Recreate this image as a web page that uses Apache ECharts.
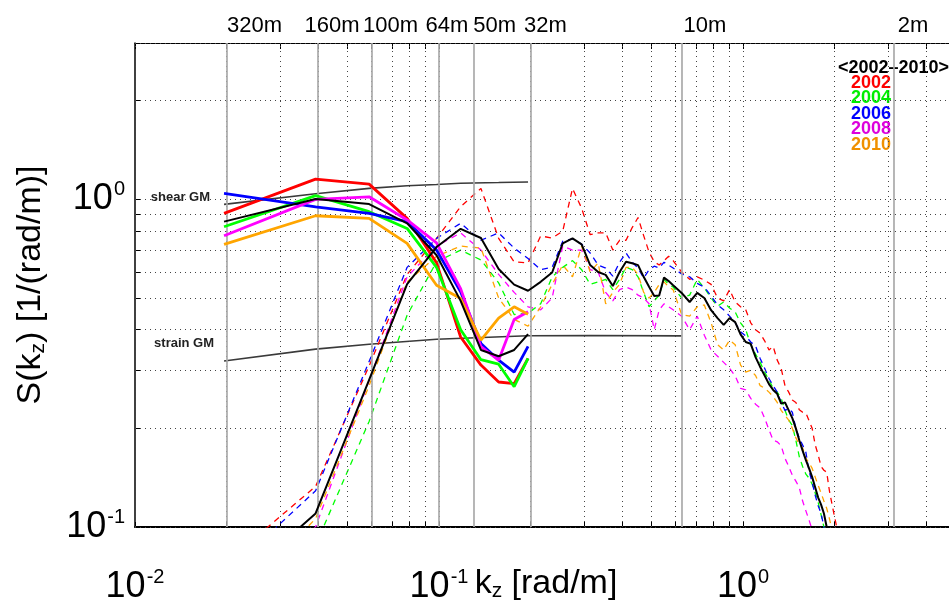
<!DOCTYPE html>
<html><head><meta charset="utf-8">
<script src="https://cdn.jsdelivr.net/npm/echarts@6/dist/echarts.min.js"></script>
<style>html,body{margin:0;padding:0;background:#fff}#c{width:949px;height:614px}</style>
</head><body><div id="c"></div>
<script>
// ---- data ----
const kLow = [0.01963,0.03927,0.05890,0.07854,0.09817,0.1178,0.1374,0.1571,0.1767,0.1963];
const lowRed     = [0.906,1.153,1.113,0.875,0.64,0.38,0.312,0.277,0.274,0.327];
const lowGreen   = [0.825,1.026,0.917,0.815,0.62,0.40,0.324,0.314,0.268,0.327];
const lowBlue    = [1.043,0.949,0.906,0.855,0.70,0.522,0.363,0.323,0.297,0.356];
const lowMagenta = [0.774,1.0,1.018,0.865,0.736,0.534,0.355,0.323,0.43,0.454];
const lowOrange  = [0.729,0.891,0.875,0.734,0.547,0.498,0.372,0.434,0.47,0.446];
const lowMean    = [0.855,1.002,0.967,0.845,0.675,0.49,0.347,0.332,0.347,0.388];

const kHigh = [0.01963,0.03927,0.05890,0.07854,0.09817,0.1178,0.1374,0.1571,0.1767,0.1963,
  0.2160,0.2356,0.2553,0.2749,0.2945,0.3142,0.3338,0.3534,0.3731,0.3927,
  0.4123,0.4320,0.4516,0.4712,0.4909,0.5105,0.5301,0.5498,0.5694,0.5890,
  0.6283,0.6676,0.7069,0.7461,0.7854,0.8247,0.8639,0.9032,0.9425,0.9817,
  1.0210,1.0603,1.0996,1.1388,1.1781,1.2174,1.2566,1.2959,1.3352,1.3744,
  1.4137,1.4530,1.4923,1.5315,1.5708,1.6101,1.6493,1.6886,1.7279,1.7671,
  1.8064,1.8457,1.8850,1.9242,1.9635,2.0028,2.0420];
const highMean = [0.062,0.110,0.281,0.551,0.715,0.813,0.762,0.613,0.549,0.526,
  0.56,0.598,0.734,0.76,0.729,0.63,0.60,0.588,0.544,0.60,
  0.645,0.638,0.63,0.58,0.541,0.507,0.509,0.577,0.563,0.547,
  0.518,0.486,0.518,0.50,0.459,0.434,0.414,0.434,0.422,0.387,
  0.367,0.362,0.33,0.308,0.29,0.273,0.262,0.255,0.238,0.24,
  0.227,0.215,0.20,0.184,0.171,0.16,0.151,0.142,0.132,0.123,
  0.117,0.110,0.100,0.092,0.085,0.078,0.072];
const highRed = [0.077,0.133,0.31,0.59,0.76,0.95,1.08,0.76,0.644,0.64,
  0.773,0.762,0.80,1.08,0.94,0.78,0.79,0.79,0.70,0.75,
  0.75,0.82,0.88,0.775,0.69,0.645,0.63,0.65,0.67,0.65,
  0.60,0.57,0.58,0.567,0.55,0.50,0.49,0.53,0.486,0.47,
  0.46,0.42,0.40,0.39,0.37,0.347,0.356,0.323,0.305,0.27,
  0.258,0.244,0.24,0.228,0.224,0.223,0.211,0.20,0.178,0.166,
  0.153,0.149,0.147,0.129,0.117,0.107,0.098];
const highGreen = [0.045,0.088,0.21,0.443,0.645,0.70,0.653,0.556,0.445,0.449,
  0.48,0.58,0.62,0.65,0.61,0.55,0.56,0.57,0.53,0.57,
  0.62,0.61,0.58,0.52,0.47,0.49,0.51,0.57,0.55,0.54,
  0.50,0.51,0.57,0.536,0.50,0.472,0.486,0.466,0.453,0.42,
  0.40,0.36,0.337,0.318,0.297,0.281,0.265,0.258,0.247,0.227,
  0.212,0.204,0.184,0.164,0.153,0.145,0.141,0.135,0.127,0.119,
  0.109,0.10,0.092,0.085,0.078,0.072,0.066];
const highBlue = [0.071,0.129,0.32,0.62,0.76,0.845,0.75,0.79,0.71,0.66,
  0.61,0.62,0.745,0.757,0.73,0.686,0.63,0.617,0.583,0.643,
  0.686,0.643,0.617,0.575,0.61,0.625,0.617,0.643,0.63,0.617,
  0.592,0.58,0.554,0.54,0.507,0.476,0.46,0.44,0.42,0.394,
  0.383,0.367,0.357,0.327,0.305,0.284,0.27,0.258,0.24,0.227,
  0.23,0.224,0.20,0.187,0.178,0.169,0.148,0.137,0.125,0.116,
  0.11,0.10,0.093,0.087,0.08,0.075,0.07];
const highMagenta = [0.055,0.10,0.28,0.58,0.72,0.79,0.70,0.59,0.52,0.47,
  0.46,0.50,0.72,0.70,0.70,0.61,0.60,0.52,0.49,0.53,
  0.54,0.53,0.51,0.50,0.48,0.40,0.46,0.48,0.47,0.46,
  0.44,0.40,0.44,0.385,0.347,0.332,0.318,0.305,0.289,0.265,
  0.262,0.247,0.237,0.231,0.215,0.198,0.184,0.182,0.177,0.162,
  0.153,0.144,0.138,0.132,0.12,0.112,0.105,0.098,0.09,0.083,
  0.077,0.072,0.067,0.063,0.059,0.055,0.052];
const highOrange = [0.055,0.106,0.27,0.56,0.67,0.72,0.71,0.50,0.43,0.41,
  0.47,0.55,0.63,0.58,0.72,0.60,0.64,0.48,0.52,0.55,
  0.62,0.62,0.59,0.52,0.50,0.52,0.55,0.56,0.54,0.53,
  0.445,0.44,0.47,0.476,0.42,0.36,0.347,0.372,0.36,0.312,
  0.297,0.301,0.29,0.27,0.265,0.258,0.25,0.24,0.227,0.219,
  0.212,0.20,0.187,0.179,0.174,0.162,0.157,0.151,0.142,0.134,
  0.127,0.12,0.114,0.106,0.098,0.092,0.086];

const shearK  = [0.01963,0.03927,0.05890,0.07854,0.09817,0.1178,0.1571,0.1963];
const shearGM = [0.965,1.04,1.08,1.10,1.11,1.12,1.125,1.13];
const strainK  = [0.01963,0.03927,0.05890,0.09817,0.1963,0.3142,0.6283];
const strainGM = [0.321,0.349,0.361,0.374,0.3835,0.384,0.383];

const wavelengthLabels = ['320m','160m','100m','64m','50m','32m','10m','2m'];
const wavelengthK = [0.01963,0.03927,0.06283,0.09817,0.1257,0.1963,0.6283,3.1416];

const xTicks = [0.01,0.02,0.03,0.04,0.05,0.06,0.07,0.08,0.09,0.1,0.2,0.3,0.4,0.5,0.6,0.7,0.8,0.9,1,2,3,4,5,6,7,8,9,10];
const yTicks = [0.1,0.2,0.3,0.4,0.5,0.6,0.7,0.8,0.9,1,2,3];
const xTickLabels = [0.01,0.1,1];
const yTickLabels = [0.1,1];

const years = ['2002','2004','2006','2008','2010'];
const meanName = '<2002\u20132010>';

// ---- chart ----
const colors = ['#ff0000','#00ff00','#0000ff','#ff00ff','#ffa500'];
const legendColors = ['#ff0000','#00ee00','#0000ff','#dd00dd','#f09000'];
const lowSets = [lowRed,lowGreen,lowBlue,lowMagenta,lowOrange];
const highSets = [highRed,highGreen,highBlue,highMagenta,highOrange];
const FONT = '"Liberation Sans", Arial, Helvetica, sans-serif';
const zip = (ks, vs) => ks.map((k,i)=>[k, vs[i]]);

function powLabel(v){
  const e = Math.log10(v), r = Math.round(e);
  if (Math.abs(e-r) > 1e-6) return '';
  return '{b|10}{s|' + r + '}';
}
const richLab = {
  b:{fontSize:36, fontFamily:FONT, color:'#000'},
  s:{fontSize:20, fontFamily:FONT, color:'#000', padding:[0,0,20,1]}
};
const gmLabel = {fontSize:13, fontWeight:'bold', fontFamily:FONT, color:'#222'};

const series = [];
series.push({
  name:'grid', type:'line', data:[], silent:true, z:1,
  markLine:{silent:true, symbol:['none','none'], animation:false, label:{show:false},
    lineStyle:{color:'#444', width:1, type:[1,4]},
    data: xTicks.map(v=>({xAxis:v})).concat(yTicks.map(v=>({yAxis:v})))}
});
const labOff = [28,14,19,8,21,15,23,19];
series.push({
  name:'wavelengths', type:'line', data:[], silent:true, z:2,
  markLine:{silent:true, symbol:['none','none'], animation:false,
    lineStyle:{color:'#aaaaaa', width:1.7, type:'solid'},
    label:{show:true, position:'end', fontSize:22, fontFamily:FONT, color:'#000', distance:6},
    data: wavelengthK.map((k,i)=>({xAxis:k, label:{formatter:wavelengthLabels[i], offset:[labOff[i],0]}}))}
});
series.push({
  name:'shear GM', type:'line', symbol:'circle', symbolSize:0, showSymbol:true, z:3, silent:true,
  itemStyle:{color:'#3a3a3a'}, lineStyle:{color:'#3a3a3a', width:1.6},
  label:{show:false},
  data: zip(shearK, shearGM).map((p,i)=> i===0 ? {value:p, label:Object.assign({show:true, formatter:'shear GM', position:'left', distance:14, offset:[0,-7]}, gmLabel)} : p)
});
series.push({
  name:'strain GM', type:'line', symbol:'circle', symbolSize:0, showSymbol:true, z:3, silent:true,
  itemStyle:{color:'#3a3a3a'}, lineStyle:{color:'#3a3a3a', width:1.6},
  label:{show:false},
  data: zip(strainK, strainGM).map((p,i)=> i===0 ? {value:p, label:Object.assign({show:true, formatter:'strain GM', position:'left', distance:10, offset:[0,-18]}, gmLabel)} : p)
});
years.forEach((y,i)=>{
  series.push({name:y, type:'line', symbol:'none', z:4, color:colors[i],
    lineStyle:{color:colors[i], width:1.3, type:[6,5]}, data: zip(kHigh, highSets[i])});
});
years.forEach((y,i)=>{
  series.push({name:y, type:'line', symbol:'none', z:5, color:colors[i],
    lineStyle:{color:colors[i], width:2.8}, data: zip(kLow, lowSets[i])});
});
series.push({name:meanName, type:'line', symbol:'none', z:6, color:'#000',
  lineStyle:{color:'#000', width:2}, data: zip(kLow, lowMean)});
series.push({name:meanName, type:'line', symbol:'none', z:6, color:'#000',
  lineStyle:{color:'#000', width:2}, data: zip(kHigh, highMean)});

const option = {
  animation:false,
  backgroundColor:'#fff',
  textStyle:{fontFamily:FONT},
  grid:{left:135, top:43, bottom:87, right:-98, containLabel:false, outerBoundsMode:'none'},
  legend:[
    {data:[{name:meanName}], left:828, top:54, icon:'rect', itemWidth:0, itemHeight:0,
      itemStyle:{opacity:0}, lineStyle:{opacity:0}, selectedMode:false,
      textStyle:{fontSize:18, fontWeight:'bold', color:'#000', fontFamily:FONT}},
    {data: years.map((y,i)=>({name:y, textStyle:{color:legendColors[i]}})), orient:'vertical',
      left:841, top:69, itemGap:-2.5, icon:'rect', itemWidth:0, itemHeight:0,
      itemStyle:{opacity:0}, lineStyle:{opacity:0}, selectedMode:false,
      textStyle:{fontSize:18, fontWeight:'bold', lineHeight:14.5, fontFamily:FONT}}
  ],
  xAxis:[
    {type:'log', logBase:10, min:0.01, max:10, position:'bottom',
      name:'{a|k}{sub|z}{a| [rad/m]}', nameLocation:'middle', nameGap:38, nameMoveOverlap:false,
      nameTextStyle:{padding:[0,90,0,0], rich:{a:{fontSize:34, fontFamily:FONT, color:'#000'}, sub:{fontSize:21, fontFamily:FONT, color:'#000', padding:[16,0,0,0]}}},
      axisLine:{show:true, lineStyle:{color:'#000', width:2}},
      axisTick:{show:true, inside:true, length:6, customValues:xTicks, lineStyle:{color:'#000', width:1}},
      axisLabel:{show:true, customValues:xTickLabels, formatter:powLabel, margin:40, rich:richLab},
      splitLine:{show:false}, minorTick:{show:false}},
    {type:'log', logBase:10, min:0.01, max:10, position:'top',
      axisLine:{show:true, lineStyle:{color:'#000', width:1}},
      axisTick:{show:true, inside:true, length:6, customValues:xTicks, lineStyle:{color:'#000', width:1}},
      axisLabel:{show:false}, splitLine:{show:false}}
  ],
  yAxis:[
    {type:'log', logBase:10, min:0.1, max:3,
      name:'{a|S(k}{sub|z}{a|) [1/(rad/m)]}', nameLocation:'middle', nameGap:86, nameRotate:90, nameMoveOverlap:false,
      nameTextStyle:{rich:{a:{fontSize:34, fontFamily:FONT, color:'#000'}, sub:{fontSize:21, fontFamily:FONT, color:'#000', padding:[16,0,0,0]}}},
      axisLine:{show:true, lineStyle:{color:'#000', width:1.5}},
      axisTick:{show:true, inside:true, length:6, customValues:yTicks, lineStyle:{color:'#000', width:1}},
      axisLabel:{show:true, customValues:yTickLabels, formatter:powLabel, margin:10, rich:richLab},
      splitLine:{show:false}}
  ],
  series: series
};
const chart = echarts.init(document.getElementById('c'), null, {renderer:'canvas'});
chart.setOption(option);
</script></body></html>
